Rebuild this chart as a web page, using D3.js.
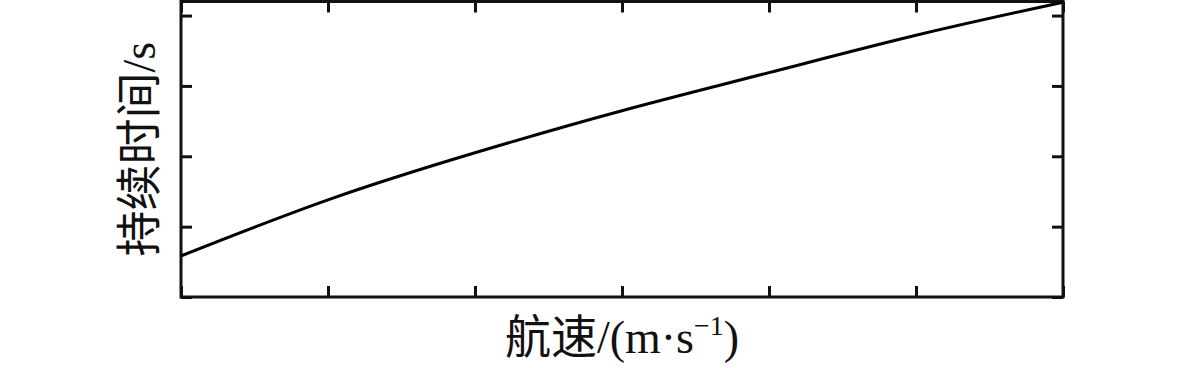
<!DOCTYPE html>
<html>
<head>
<meta charset="utf-8">
<script src="https://cdn.jsdelivr.net/npm/d3@7"></script>
<style>
  body { margin: 0; background: #fff; }
  text { font-family: "Liberation Serif", "Noto Sans CJK SC", serif; fill: #111; }
</style>
</head>
<body>
<svg id="chart"></svg>
<script>
// speed (arbitrary units, no tick labels shown) vs duration
let speed = [0, 1, 2, 3, 4, 5, 6];
let duration = [0.584, 1.381, 2.05, 2.648, 3.189, 3.72, 4.19];
let xTicks = [0, 1, 2, 3, 4, 5, 6];
let yTicks = [0, 1, 2, 3, 4];

let width = 1181,
    height = 368,
    margin = {left: 181, right: 118, top: 1.5, bottom: 71};

let svg = d3.select('#chart')
            .attr('width', width)
            .attr('height', height);

let x = d3.scaleLinear()
          .domain([0, 6])
          .range([margin.left, width - margin.right]);

let y = d3.scaleLinear()
          .domain([0, 4.2])
          .range([height - margin.bottom, margin.top]);

let tickLen = 11;

let axes = [
  {axis: d3.axisBottom(x).tickValues(xTicks), t: `translate(0,${y(0)})`},
  {axis: d3.axisTop(x).tickValues(xTicks), t: `translate(0,${margin.top})`},
  {axis: d3.axisLeft(y).tickValues(yTicks), t: `translate(${x(0)},0)`},
  {axis: d3.axisRight(y).tickValues(yTicks), t: `translate(${x(6)},0)`}
];

axes.forEach(a => {
  let g = svg.append('g')
     .attr('transform', a.t)
     .call(a.axis.tickSizeInner(-tickLen).tickSizeOuter(0).tickFormat(''));
  g.select('.domain').remove();
  g.selectAll('line').attr('stroke', '#111').attr('stroke-width', 3);
});

svg.append('rect')
   .attr('x', x(0))
   .attr('y', y(4.2))
   .attr('width', x(6) - x(0))
   .attr('height', y(0) - y(4.2))
   .attr('fill', 'none')
   .attr('stroke', '#111')
   .attr('stroke-width', 3);

let line = d3.line()
             .x((d, i) => x(speed[i]))
             .y(d => y(d))
             .curve(d3.curveNatural);

svg.append('path')
   .datum(duration)
   .attr('d', line)
   .attr('fill', 'none')
   .attr('stroke', '#000')
   .attr('stroke-width', 3);

// axis titles
let xt = svg.append('text')
   .attr('x', (x(0) + x(6)) / 2)
   .attr('y', 353)
   .attr('text-anchor', 'middle')
   .attr('font-size', 46);
xt.append('tspan').text('航速/(m·s');
xt.append('tspan').attr('font-size', 28).attr('dy', -18).text('−1');
xt.append('tspan').attr('dy', 18).text(')');

svg.append('text')
   .attr('transform', `translate(155,${(y(0) + y(4.2)) / 2}) rotate(-90)`)
   .attr('text-anchor', 'middle')
   .attr('font-size', 46)
   .text('持续时间/s');
</script>
</body>
</html>
